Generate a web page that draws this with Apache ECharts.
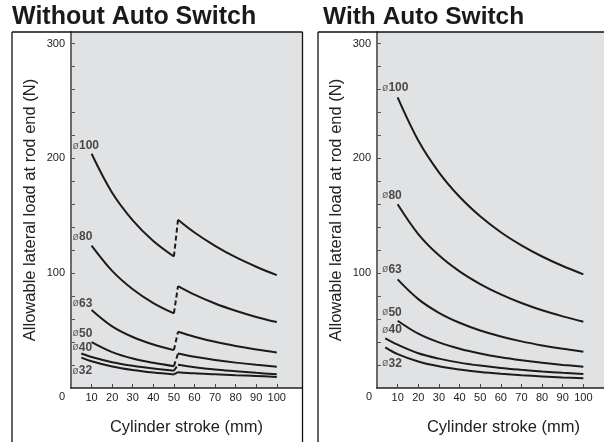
<!DOCTYPE html>
<html><head><meta charset="utf-8">
<script src="https://cdn.jsdelivr.net/npm/echarts@6/dist/echarts.min.js"></script>
<style>html,body{margin:0;padding:0;background:#fff}#c{width:604px;height:442px}</style>
</head><body><div id="c"></div>
<script>
// ---- DATA ----
const diameters = ['100', '80', '63', '50', '40', '32'];

// Without Auto Switch (left): curves break at 50 mm and restart at 52 mm
const woStrokeBig = [10, 20, 30, 40, 50];
const woStrokeSmall = [5, 10, 20, 30, 40, 50];
const woStrokeAfter = [52, 60, 70, 80, 90, 100];
const wo100Before = [204, 170, 146, 128, 114.5];
const wo100After = [146.5, 135.4, 123.8, 113.9, 105.6, 98.3];
const wo80Before = [124, 102, 86, 74, 65];
const wo80After = [88.7, 81.3, 73.6, 67.3, 61.9, 57.4];
const wo63Before = [68, 53.7, 44.4, 37.9, 33];
const wo63After = [49, 44.7, 40.2, 36.6, 33.6, 31];
const wo50Before = [40, 31.3, 25.7, 21.9, 19];
const wo50After = [30, 27.2, 24.4, 22.1, 20.2, 18.6];
const wo40Before = [30, 27, 22.5, 19.3, 16.9, 15];
const wo40After = [20.2, 18.1, 16.1, 14.6, 13.2, 12];
const wo32Before = [26.5, 23.3, 18.7, 15.6, 13.4, 11.8];
const wo32After = [13.8, 12.8, 12, 11.2, 10.5, 9.6];

// With Auto Switch (right)
const wStrokeBig = [10, 20, 30, 40, 50, 60, 70, 80, 90, 100];
const wStrokeSmall = [4, 10, 20, 30, 40, 50, 60, 70, 80, 90, 100];
const w100 = [253, 215.5, 187.8, 166.5, 149.5, 135.6, 124.2, 114.5, 106.2, 99];
const w80 = [160, 134, 115.5, 101.5, 90.5, 81.5, 74, 67.7, 62.4, 57.7];
const w63 = [94.6, 77.4, 65.5, 56.8, 50.1, 44.9, 40.6, 37.1, 34.1, 31.6];
const w50 = [58.6, 47.3, 39.7, 34.2, 30, 26.7, 24.1, 21.9, 20.1, 18.6];
const w40 = [43.2, 37.7, 30.3, 25.6, 22.1, 19.5, 17.4, 15.8, 14.4, 13.2, 12.2];
const w32 = [35.4, 29.5, 23.1, 18.9, 16.1, 14, 12.4, 11.1, 10.1, 9.2, 8.4];

// Tick values / labels
const xTickValues = [10, 20, 30, 40, 50, 60, 70, 80, 90, 100];
const xLabelValues = [10, 20, 30, 40, 50, 60, 70, 80, 90, 100];
const yTickValues = [20, 40, 60, 80, 100, 120, 140, 160, 180, 200, 220, 240, 260, 280, 300];
const yLabelValues = [100, 200, 300];
const originLabel = '0';
const titles = ['Without Auto Switch', 'With Auto Switch'];
const yName = 'Allowable lateral load at rod end (N)';
const xName = 'Cylinder stroke (mm)';

// ---- STYLE ----
const LINE = '#1b1b1b';
const FONT = '"Liberation Sans", Arial, Helvetica, sans-serif';
const NARROW = '"Liberation Sans Narrow", "Arial Narrow", "Liberation Sans", sans-serif';
const labelOffsetsWO = [[-19, -8], [-19, -8.5], [-19, -6.6], [-19, -8.7], [-9, -6], [-9, 13.4]];
const labelOffsetsW = [[-15.6, -9.3], [-15.6, -9], [-15.6, -10.1], [-15.6, -8.2], [-3.2, -8.4], [-3.2, 16.2]];

const zip = (xs, ys) => xs.map((x, i) => [x, ys[i]]);

function curve(xs, ys, gi, dashed) {
  return {
    type: 'line', xAxisIndex: gi, yAxisIndex: gi, data: zip(xs, ys),
    smooth: dashed ? false : 0.35, symbol: 'none', silent: true, animation: false,
    lineStyle: { color: LINE, width: 2, type: dashed ? [5, 3] : 'solid' }
  };
}

function labelSeries(points, offsets, gi) {
  return {
    type: 'scatter', xAxisIndex: gi, yAxisIndex: gi, symbolSize: 0, silent: true, animation: false,
    data: points.map((p, i) => ({ name: diameters[i], value: p, label: { offset: offsets[i] } })),
    label: {
      show: true, position: 'inside', align: 'left', verticalAlign: 'middle',
      formatter: p => '{a|ø}{b|' + p.name + '}',
      rich: {
        a: { fontSize: 10.5, color: '#444', fontFamily: FONT, verticalAlign: 'middle' },
        b: { fontSize: 12, fontWeight: 'bold', color: '#222', fontFamily: FONT, verticalAlign: 'middle' }
      }
    }
  };
}

const series = [];
// left
const woBefore = [[woStrokeBig, wo100Before], [woStrokeBig, wo80Before], [woStrokeBig, wo63Before],
                  [woStrokeBig, wo50Before], [woStrokeSmall, wo40Before], [woStrokeSmall, wo32Before]];
const woAfter = [wo100After, wo80After, wo63After, wo50After, wo40After, wo32After];
woBefore.forEach(([xs, ys], i) => {
  series.push(curve(xs, ys, 0, false));
  series.push(curve(woStrokeAfter, woAfter[i], 0, false));
  series.push(curve([xs[xs.length - 1], woStrokeAfter[0]], [ys[ys.length - 1], woAfter[i][0]], 0, true));
});
series.push(labelSeries(woBefore.map(([xs, ys]) => [xs[0], ys[0]]), labelOffsetsWO, 0));
// right
const wSets = [[wStrokeBig, w100], [wStrokeBig, w80], [wStrokeBig, w63], [wStrokeBig, w50], [wStrokeSmall, w40], [wStrokeSmall, w32]];
wSets.forEach(([xs, ys]) => series.push(curve(xs, ys, 1, false)));
series.push(labelSeries(wSets.map(([xs, ys]) => [xs[0], ys[0]]), labelOffsetsW, 1));

function xAxis(gi, max, namePadLeft) {
  return {
    type: 'value', gridIndex: gi, min: 0, max: max,
    name: xName, nameLocation: 'middle', nameGap: 31,
    nameTextStyle: { fontSize: 16.5, color: '#222', fontFamily: FONT, padding: [0, 0, 0, namePadLeft] },
    axisLine: { show: true, lineStyle: { color: '#222', width: 1.5 } },
    axisTick: { show: true, inside: true, length: 4, customValues: xTickValues, lineStyle: { color: '#444', width: 1 } },
    axisLabel: { customValues: xLabelValues, fontSize: 11, color: '#222', margin: 4, fontFamily: NARROW },
    splitLine: { show: false }
  };
}
function yAxis(gi) {
  return {
    type: 'value', gridIndex: gi, min: 0, max: 310,
    name: yName, nameLocation: 'middle', nameGap: 32,
    nameTextStyle: { fontSize: 16.5, color: '#222', fontFamily: FONT },
    axisLine: { show: true, lineStyle: { color: '#6a6a6a', width: 2 } },
    axisTick: { show: true, inside: true, length: 4, customValues: yTickValues, lineStyle: { color: '#555', width: 1 } },
    axisLabel: { customValues: yLabelValues, fontSize: 11, color: '#222', margin: 6, fontFamily: FONT },
    splitLine: { show: false }
  };
}

const border = { stroke: '#111', lineWidth: 1.3 };
const option = {
  animation: false,
  backgroundColor: '#fff',
  grid: [
    { left: 71, top: 32, width: 231, height: 356, show: true, backgroundColor: '#e1e2e4', borderWidth: 0 },
    { left: 377, top: 32, width: 227, height: 356, show: true, backgroundColor: '#e1e2e4', borderWidth: 0 }
  ],
  xAxis: [xAxis(0, 112.25, 0), xAxis(1, 110, 26)],
  yAxis: [yAxis(0), yAxis(1)],
  series: series,
  graphic: [
    { type: 'line', shape: { x1: 12, y1: 32, x2: 12, y2: 442 }, style: border, z: 10 },
    { type: 'line', shape: { x1: 12, y1: 32, x2: 302.5, y2: 32 }, style: border, z: 10 },
    { type: 'line', shape: { x1: 302.5, y1: 32, x2: 302.5, y2: 442 }, style: border, z: 10 },
    { type: 'line', shape: { x1: 318, y1: 32, x2: 318, y2: 442 }, style: border, z: 10 },
    { type: 'line', shape: { x1: 318, y1: 32, x2: 604, y2: 32 }, style: border, z: 10 },
    { type: 'text', x: 12, y: 17, style: { text: titles[0], font: 'bold 25px ' + FONT, fill: '#1a1a1a', align: 'left', verticalAlign: 'middle' } },
    { type: 'text', x: 323, y: 17, style: { text: titles[1], font: 'bold 24.5px ' + FONT, fill: '#1a1a1a', align: 'left', verticalAlign: 'middle' } },
    { type: 'text', x: 62, y: 397, style: { text: originLabel, font: '11px ' + FONT, fill: '#222', align: 'center', verticalAlign: 'middle' } },
    { type: 'text', x: 369, y: 397, style: { text: originLabel, font: '11px ' + FONT, fill: '#222', align: 'center', verticalAlign: 'middle' } }
  ]
};
const chart = echarts.init(document.getElementById('c'), null, { renderer: 'canvas' });
chart.setOption(option);
</script></body></html>
